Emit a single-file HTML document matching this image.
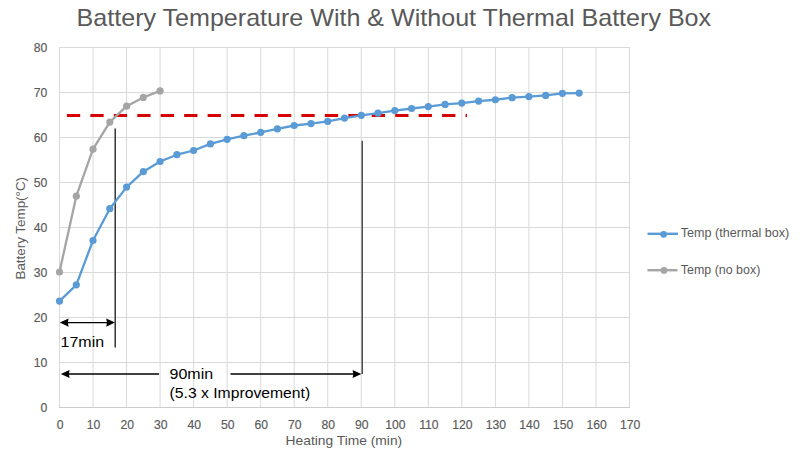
<!DOCTYPE html>
<html><head><meta charset="utf-8"><style>
html,body{margin:0;padding:0;background:#fff;}
svg{display:block;font-family:"Liberation Sans", sans-serif;}
</style></head><body>
<svg width="800" height="462" viewBox="0 0 800 462">
<rect width="800" height="462" fill="#fff"/>
<line x1="59.50" y1="47" x2="59.50" y2="408" stroke="#d9d9d9" stroke-width="1"/>
<line x1="93.03" y1="47" x2="93.03" y2="408" stroke="#d9d9d9" stroke-width="1"/>
<line x1="126.56" y1="47" x2="126.56" y2="408" stroke="#d9d9d9" stroke-width="1"/>
<line x1="160.09" y1="47" x2="160.09" y2="408" stroke="#d9d9d9" stroke-width="1"/>
<line x1="193.62" y1="47" x2="193.62" y2="408" stroke="#d9d9d9" stroke-width="1"/>
<line x1="227.15" y1="47" x2="227.15" y2="408" stroke="#d9d9d9" stroke-width="1"/>
<line x1="260.68" y1="47" x2="260.68" y2="408" stroke="#d9d9d9" stroke-width="1"/>
<line x1="294.21" y1="47" x2="294.21" y2="408" stroke="#d9d9d9" stroke-width="1"/>
<line x1="327.74" y1="47" x2="327.74" y2="408" stroke="#d9d9d9" stroke-width="1"/>
<line x1="361.26" y1="47" x2="361.26" y2="408" stroke="#d9d9d9" stroke-width="1"/>
<line x1="394.79" y1="47" x2="394.79" y2="408" stroke="#d9d9d9" stroke-width="1"/>
<line x1="428.32" y1="47" x2="428.32" y2="408" stroke="#d9d9d9" stroke-width="1"/>
<line x1="461.85" y1="47" x2="461.85" y2="408" stroke="#d9d9d9" stroke-width="1"/>
<line x1="495.38" y1="47" x2="495.38" y2="408" stroke="#d9d9d9" stroke-width="1"/>
<line x1="528.91" y1="47" x2="528.91" y2="408" stroke="#d9d9d9" stroke-width="1"/>
<line x1="562.44" y1="47" x2="562.44" y2="408" stroke="#d9d9d9" stroke-width="1"/>
<line x1="595.97" y1="47" x2="595.97" y2="408" stroke="#d9d9d9" stroke-width="1"/>
<line x1="629.50" y1="47" x2="629.50" y2="408" stroke="#d9d9d9" stroke-width="1"/>
<line x1="59" y1="407.50" x2="630" y2="407.50" stroke="#d9d9d9" stroke-width="1"/>
<line x1="59" y1="362.50" x2="630" y2="362.50" stroke="#d9d9d9" stroke-width="1"/>
<line x1="59" y1="317.50" x2="630" y2="317.50" stroke="#d9d9d9" stroke-width="1"/>
<line x1="59" y1="272.50" x2="630" y2="272.50" stroke="#d9d9d9" stroke-width="1"/>
<line x1="59" y1="227.50" x2="630" y2="227.50" stroke="#d9d9d9" stroke-width="1"/>
<line x1="59" y1="182.50" x2="630" y2="182.50" stroke="#d9d9d9" stroke-width="1"/>
<line x1="59" y1="137.50" x2="630" y2="137.50" stroke="#d9d9d9" stroke-width="1"/>
<line x1="59" y1="92.50" x2="630" y2="92.50" stroke="#d9d9d9" stroke-width="1"/>
<line x1="59" y1="47.50" x2="630" y2="47.50" stroke="#d9d9d9" stroke-width="1"/>
<line x1="59" y1="407.50" x2="630" y2="407.50" stroke="#cccccc" stroke-width="1"/>
<line x1="66.9" y1="115.5" x2="467" y2="115.5" stroke="#d60000" stroke-width="3" stroke-dasharray="13.3 10.15"/>
<line x1="115.2" y1="128.6" x2="115.2" y2="347.4" stroke="#262626" stroke-width="1.4"/>
<line x1="362.2" y1="140.8" x2="362.2" y2="374" stroke="#222" stroke-width="1.2"/>
<polyline points="59.5,272.0 76.3,196.2 93.0,149.2 109.8,122.1 126.6,106.2 143.3,97.4 160.1,90.9" fill="none" stroke="#a5a5a5" stroke-width="2.3" stroke-linejoin="round" stroke-linecap="round"/>
<circle cx="59.5" cy="272.0" r="3.6" fill="#a5a5a5"/>
<circle cx="76.3" cy="196.2" r="3.6" fill="#a5a5a5"/>
<circle cx="93.0" cy="149.2" r="3.6" fill="#a5a5a5"/>
<circle cx="109.8" cy="122.1" r="3.6" fill="#a5a5a5"/>
<circle cx="126.6" cy="106.2" r="3.6" fill="#a5a5a5"/>
<circle cx="143.3" cy="97.4" r="3.6" fill="#a5a5a5"/>
<circle cx="160.1" cy="90.9" r="3.6" fill="#a5a5a5"/>
<polyline points="59.5,301.1 76.3,284.8 93.0,240.5 109.8,208.7 126.6,187.1 143.3,171.7 160.1,161.5 176.9,154.7 193.6,150.5 210.4,143.9 227.1,139.35 243.9,135.7 260.7,132.4 277.4,128.95 294.2,125.5 311.0,123.55 327.7,121.45 344.5,118.1 361.3,115.3 378.0,113.2 394.8,110.6 411.6,108.5 428.3,106.6 445.1,104.4 461.8,103.1 478.6,101.1 495.4,99.75 512.1,97.65 528.9,96.6 545.7,95.4 562.4,93.3 579.2,93.1" fill="none" stroke="#5b9bd5" stroke-width="2.3" stroke-linejoin="round" stroke-linecap="round"/>
<circle cx="59.5" cy="301.1" r="3.6" fill="#5b9bd5"/>
<circle cx="76.3" cy="284.8" r="3.6" fill="#5b9bd5"/>
<circle cx="93.0" cy="240.5" r="3.6" fill="#5b9bd5"/>
<circle cx="109.8" cy="208.7" r="3.6" fill="#5b9bd5"/>
<circle cx="126.6" cy="187.1" r="3.6" fill="#5b9bd5"/>
<circle cx="143.3" cy="171.7" r="3.6" fill="#5b9bd5"/>
<circle cx="160.1" cy="161.5" r="3.6" fill="#5b9bd5"/>
<circle cx="176.9" cy="154.7" r="3.6" fill="#5b9bd5"/>
<circle cx="193.6" cy="150.5" r="3.6" fill="#5b9bd5"/>
<circle cx="210.4" cy="143.9" r="3.6" fill="#5b9bd5"/>
<circle cx="227.1" cy="139.35" r="3.6" fill="#5b9bd5"/>
<circle cx="243.9" cy="135.7" r="3.6" fill="#5b9bd5"/>
<circle cx="260.7" cy="132.4" r="3.6" fill="#5b9bd5"/>
<circle cx="277.4" cy="128.95" r="3.6" fill="#5b9bd5"/>
<circle cx="294.2" cy="125.5" r="3.6" fill="#5b9bd5"/>
<circle cx="311.0" cy="123.55" r="3.6" fill="#5b9bd5"/>
<circle cx="327.7" cy="121.45" r="3.6" fill="#5b9bd5"/>
<circle cx="344.5" cy="118.1" r="3.6" fill="#5b9bd5"/>
<circle cx="361.3" cy="115.3" r="3.6" fill="#5b9bd5"/>
<circle cx="378.0" cy="113.2" r="3.6" fill="#5b9bd5"/>
<circle cx="394.8" cy="110.6" r="3.6" fill="#5b9bd5"/>
<circle cx="411.6" cy="108.5" r="3.6" fill="#5b9bd5"/>
<circle cx="428.3" cy="106.6" r="3.6" fill="#5b9bd5"/>
<circle cx="445.1" cy="104.4" r="3.6" fill="#5b9bd5"/>
<circle cx="461.8" cy="103.1" r="3.6" fill="#5b9bd5"/>
<circle cx="478.6" cy="101.1" r="3.6" fill="#5b9bd5"/>
<circle cx="495.4" cy="99.75" r="3.6" fill="#5b9bd5"/>
<circle cx="512.1" cy="97.65" r="3.6" fill="#5b9bd5"/>
<circle cx="528.9" cy="96.6" r="3.6" fill="#5b9bd5"/>
<circle cx="545.7" cy="95.4" r="3.6" fill="#5b9bd5"/>
<circle cx="562.4" cy="93.3" r="3.6" fill="#5b9bd5"/>
<circle cx="579.2" cy="93.1" r="3.6" fill="#5b9bd5"/>
<line x1="64" y1="322.6" x2="111" y2="322.6" stroke="#000" stroke-width="1.4"/>
<polygon points="59.8,322.6 68.6,318.5 67.8,322.6 68.6,326.70000000000005" fill="#000"/>
<polygon points="115.0,322.6 106.2,318.5 107.0,322.6 106.2,326.70000000000005" fill="#000"/>
<line x1="65" y1="374" x2="159" y2="374" stroke="#000" stroke-width="1.4"/>
<line x1="230.5" y1="374" x2="357" y2="374" stroke="#000" stroke-width="1.4"/>
<polygon points="60.8,374 69.6,369.9 68.8,374 69.6,378.1" fill="#000"/>
<polygon points="361.4,374 352.59999999999997,369.9 353.4,374 352.59999999999997,378.1" fill="#000"/>
<text x="76.6" y="26.4" font-size="24" fill="#595959" text-anchor="start" textLength="634.5" lengthAdjust="spacingAndGlyphs">Battery Temperature With &amp; Without Thermal Battery Box</text>
<text x="47.3" y="411.5" font-size="12.2" fill="#595959" text-anchor="end" stroke="#595959" stroke-width="0.15">0</text>
<text x="47.3" y="366.5" font-size="12.2" fill="#595959" text-anchor="end" stroke="#595959" stroke-width="0.15">10</text>
<text x="47.3" y="321.5" font-size="12.2" fill="#595959" text-anchor="end" stroke="#595959" stroke-width="0.15">20</text>
<text x="47.3" y="276.5" font-size="12.2" fill="#595959" text-anchor="end" stroke="#595959" stroke-width="0.15">30</text>
<text x="47.3" y="231.5" font-size="12.2" fill="#595959" text-anchor="end" stroke="#595959" stroke-width="0.15">40</text>
<text x="47.3" y="186.5" font-size="12.2" fill="#595959" text-anchor="end" stroke="#595959" stroke-width="0.15">50</text>
<text x="47.3" y="141.5" font-size="12.2" fill="#595959" text-anchor="end" stroke="#595959" stroke-width="0.15">60</text>
<text x="47.3" y="96.5" font-size="12.2" fill="#595959" text-anchor="end" stroke="#595959" stroke-width="0.15">70</text>
<text x="47.3" y="51.5" font-size="12.2" fill="#595959" text-anchor="end" stroke="#595959" stroke-width="0.15">80</text>
<text x="60.1" y="428.6" font-size="12.2" fill="#595959" text-anchor="middle" stroke="#595959" stroke-width="0.15">0</text>
<text x="93.62939999999999" y="428.6" font-size="12.2" fill="#595959" text-anchor="middle" stroke="#595959" stroke-width="0.15">10</text>
<text x="127.15879999999999" y="428.6" font-size="12.2" fill="#595959" text-anchor="middle" stroke="#595959" stroke-width="0.15">20</text>
<text x="160.6882" y="428.6" font-size="12.2" fill="#595959" text-anchor="middle" stroke="#595959" stroke-width="0.15">30</text>
<text x="194.21759999999998" y="428.6" font-size="12.2" fill="#595959" text-anchor="middle" stroke="#595959" stroke-width="0.15">40</text>
<text x="227.74699999999999" y="428.6" font-size="12.2" fill="#595959" text-anchor="middle" stroke="#595959" stroke-width="0.15">50</text>
<text x="261.2764" y="428.6" font-size="12.2" fill="#595959" text-anchor="middle" stroke="#595959" stroke-width="0.15">60</text>
<text x="294.8058" y="428.6" font-size="12.2" fill="#595959" text-anchor="middle" stroke="#595959" stroke-width="0.15">70</text>
<text x="328.3352" y="428.6" font-size="12.2" fill="#595959" text-anchor="middle" stroke="#595959" stroke-width="0.15">80</text>
<text x="361.8646" y="428.6" font-size="12.2" fill="#595959" text-anchor="middle" stroke="#595959" stroke-width="0.15">90</text>
<text x="395.394" y="428.6" font-size="12.2" fill="#595959" text-anchor="middle" stroke="#595959" stroke-width="0.15">100</text>
<text x="428.9234" y="428.6" font-size="12.2" fill="#595959" text-anchor="middle" stroke="#595959" stroke-width="0.15">110</text>
<text x="462.4528" y="428.6" font-size="12.2" fill="#595959" text-anchor="middle" stroke="#595959" stroke-width="0.15">120</text>
<text x="495.9822" y="428.6" font-size="12.2" fill="#595959" text-anchor="middle" stroke="#595959" stroke-width="0.15">130</text>
<text x="529.5115999999999" y="428.6" font-size="12.2" fill="#595959" text-anchor="middle" stroke="#595959" stroke-width="0.15">140</text>
<text x="563.041" y="428.6" font-size="12.2" fill="#595959" text-anchor="middle" stroke="#595959" stroke-width="0.15">150</text>
<text x="596.5704" y="428.6" font-size="12.2" fill="#595959" text-anchor="middle" stroke="#595959" stroke-width="0.15">160</text>
<text x="630.0998" y="428.6" font-size="12.2" fill="#595959" text-anchor="middle" stroke="#595959" stroke-width="0.15">170</text>
<text x="285.6" y="445.0" font-size="12.2" fill="#595959" text-anchor="start" textLength="116.6" lengthAdjust="spacingAndGlyphs">Heating Time (min)</text>
<text x="0" y="0" font-size="12.2" fill="#595959" transform="translate(25.2,279.5) rotate(-90)" textLength="102.5" lengthAdjust="spacingAndGlyphs">Battery Temp(°C)</text>
<line x1="647.5" y1="233.8" x2="678" y2="233.8" stroke="#5b9bd5" stroke-width="2.4"/>
<circle cx="663.6" cy="234.3" r="3.4" fill="#5b9bd5"/>
<text x="680.8" y="237.0" font-size="12.2" fill="#595959" text-anchor="start" textLength="108.5" lengthAdjust="spacingAndGlyphs">Temp (thermal box)</text>
<line x1="647.5" y1="270.2" x2="677.5" y2="270.2" stroke="#a5a5a5" stroke-width="2.4"/>
<circle cx="664" cy="270.4" r="3.4" fill="#a5a5a5"/>
<text x="680.8" y="273.6" font-size="12.2" fill="#595959" text-anchor="start" textLength="79.5" lengthAdjust="spacingAndGlyphs">Temp (no box)</text>
<text x="60.6" y="346.8" font-size="14.2" fill="#000" text-anchor="start" textLength="43.5" lengthAdjust="spacingAndGlyphs">17min</text>
<text x="169.6" y="379.2" font-size="14.2" fill="#000" text-anchor="start" textLength="43.5" lengthAdjust="spacingAndGlyphs">90min</text>
<text x="169.6" y="398.3" font-size="14.2" fill="#000" text-anchor="start" textLength="140.6" lengthAdjust="spacingAndGlyphs">(5.3 x Improvement)</text>
</svg>
</body></html>
